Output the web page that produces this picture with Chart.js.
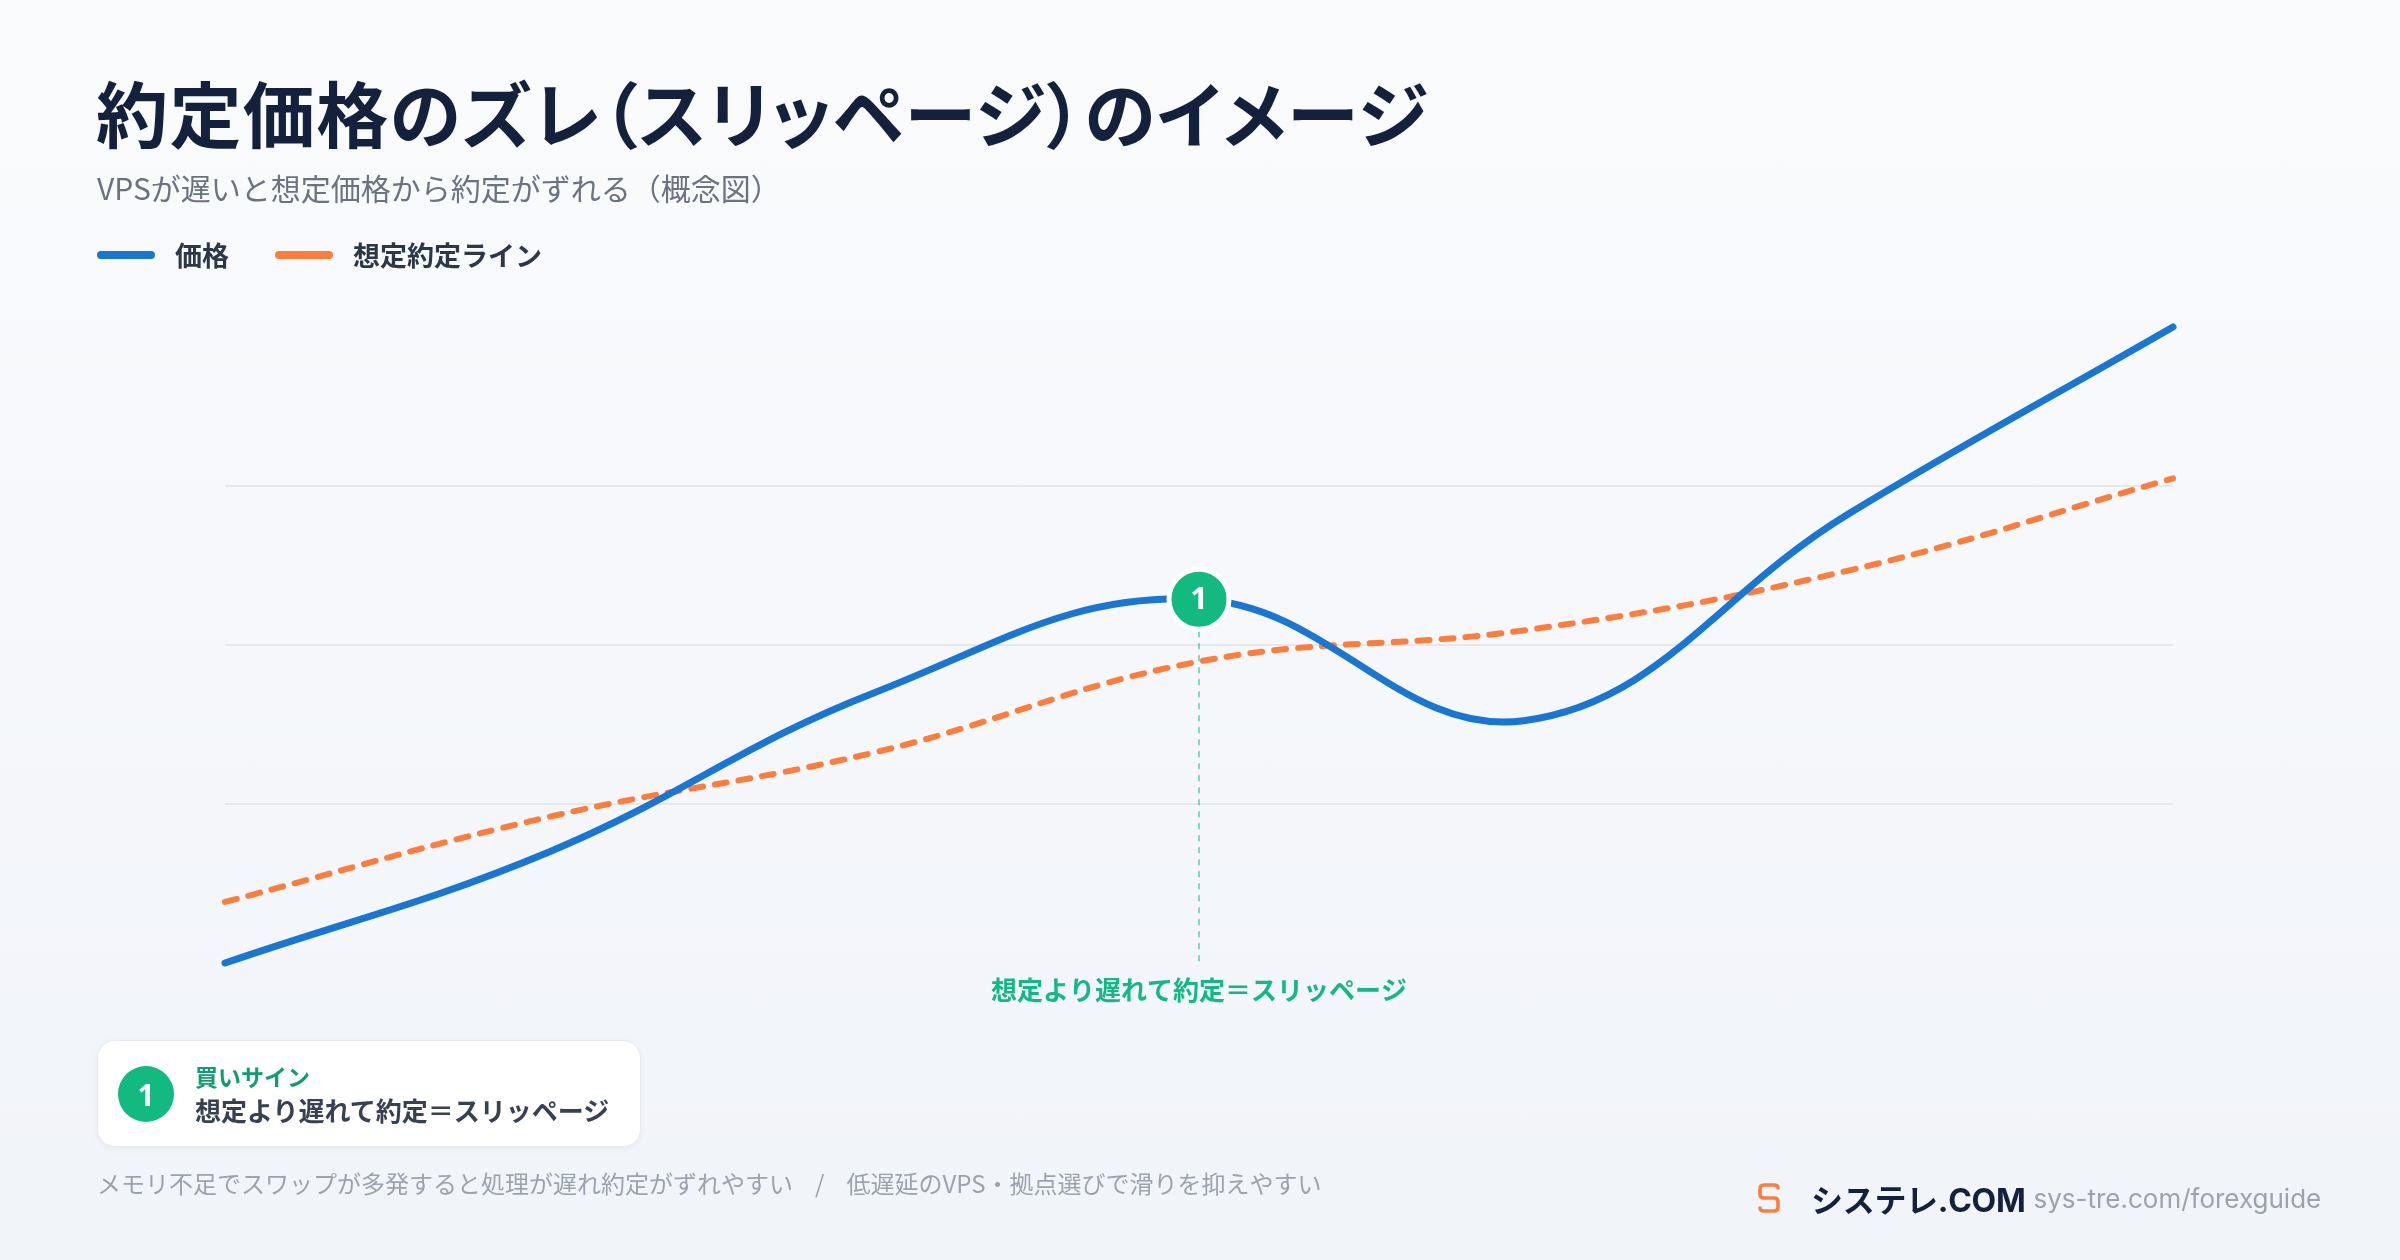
<!DOCTYPE html>
<html lang="ja">
<head>
<meta charset="utf-8">
<script src="https://cdn.jsdelivr.net/npm/chart.js@4.4.1/dist/chart.umd.min.js"></script>
<style>
  html, body { margin: 0; padding: 0; }
  body {
    width: 2400px; height: 1260px; position: relative; overflow: hidden;
    background: linear-gradient(180deg, #fafbfd 0%, #f1f4f9 100%);
    font-family: "Noto Sans CJK JP", "Noto Sans", sans-serif;
  }
  #wrap { position: absolute; left: 0; top: 0; width: 2400px; height: 1260px; }
  .abs { position: absolute; white-space: nowrap; line-height: 1; }
  #title { left: 96px; top: 75px; font-size: 72px; font-weight: 700; color: #14213d; font-feature-settings: "palt"; letter-spacing: 1.4px; }
  #subtitle { left: 97px; top: 172px; font-size: 30px; color: #6b7280; }
  .legend { top: 241px; display: flex; align-items: center; font-size: 27px; font-weight: 700; color: #2d3748; }
  .legend i { display: inline-block; width: 58px; height: 8px; border-radius: 4px; margin-right: 20px; }
  #card {
    position: absolute; left: 97px; top: 1040px; width: 544px; height: 107px;
    background: #fff; border: 1px solid #e6e9ef; border-radius: 18px; box-sizing: border-box;
    box-shadow: 0 2px 8px rgba(20, 33, 61, 0.05);
  }
  #card .num {
    position: absolute; left: 20px; top: 25px; width: 56px; height: 56px; border-radius: 50%;
    background: #12b981; color: #fff; font: 700 30px "Noto Sans", sans-serif;
    display: flex; align-items: center; justify-content: center;
  }
  #card .t1 { left: 97px; top: 24px; font-size: 23px; font-weight: 700; color: #0e9f6e; }
  #card .t2 { left: 97px; top: 56px; font-size: 26px; font-weight: 700; color: #374151; }
  #foot { left: 97px; top: 1171px; font-size: 24px; color: #9ca3af; }
  #foot .sep { margin: 0 22px; }
  #logo { left: 1757px; top: 1175px; display: flex; align-items: center; }
  #brand { font: 700 32px Inter, "Noto Sans CJK JP", sans-serif; color: #14213d; margin-left: 30px; letter-spacing: -0.3px; }
  #url { font: 400 26px Inter, "Noto Sans", sans-serif; color: #9ca3af; margin-left: 8px; }
</style>
</head>
<body>
<div id="wrap"><canvas id="myChart"></canvas></div>

<div id="title" class="abs">約定価格のズレ（スリッページ）のイメージ</div>
<div id="subtitle" class="abs">VPSが遅いと想定価格から約定がずれる（概念図）</div>
<div class="abs legend" style="left:97px"><i style="background:#1976d2"></i>価格</div>
<div class="abs legend" style="left:275px"><i style="background:#ff7d3c"></i>想定約定ライン</div>

<div id="card">
  <div class="num">1</div>
  <div class="abs t1">買いサイン</div>
  <div class="abs t2">想定より遅れて約定＝スリッページ</div>
</div>

<div id="foot" class="abs">メモリ不足でスワップが多発すると処理が遅れ約定がずれやすい<span class="sep">/</span>低遅延のVPS・拠点選びで滑りを抑えやすい</div>

<div id="logo" class="abs">
  <svg width="24" height="30" viewBox="0 0 24 30">
    <path d="M21 5 Q21 2 17 2 L7 2 Q3 2 3 6 L3 11 Q3 15 7 15 L17 15 Q21 15 21 19 L21 24 Q21 28 17 28 L7 28 Q3 28 3 25"
      fill="none" stroke="#ff7d3c" stroke-width="3.6" stroke-linecap="round" stroke-linejoin="round"/>
  </svg>
  <span id="brand">システレ.COM</span><span id="url">sys-tre.com/forexguide</span>
</div>

<script>
// time steps along the x-axis (hidden)
var steps = ['t0', 't1', 't2', 't3', 't4', 't5', 't6'];
// price line and expected fill line
var price = [0, 17.5, 42.5, 57.2, 38.1, 70.6, 100];
var expected = [9.6, 23.0, 33.1, 47.4, 52.3, 61.7, 76.2];
// marker for the buy signal
var signalIndex = 3;
var signalNo = '1';
var signalLabel = '想定より遅れて約定＝スリッページ';

var slipPlugin = {
  id: 'slip',
  beforeDatasetsDraw: function (chart) {
    var c = chart.ctx, x = chart.scales.x.getPixelForValue(signalIndex);
    var y = chart.scales.y.getPixelForValue(price[signalIndex]);
    c.save();
    c.strokeStyle = 'rgba(16,185,129,0.5)';
    c.lineWidth = 2;
    c.setLineDash([6, 6]);
    c.beginPath();
    c.moveTo(x, y + 32);
    c.lineTo(x, chart.chartArea.bottom);
    c.stroke();
    c.restore();
  },
  afterDatasetsDraw: function (chart) {
    var c = chart.ctx, x = chart.scales.x.getPixelForValue(signalIndex);
    var y = chart.scales.y.getPixelForValue(price[signalIndex]);
    c.save();
    c.beginPath();
    c.arc(x, y, 30, 0, Math.PI * 2);
    c.fillStyle = '#12b981';
    c.fill();
    c.lineWidth = 5;
    c.strokeStyle = '#ffffff';
    c.stroke();
    c.fillStyle = '#ffffff';
    c.font = '700 31px "Noto Sans", sans-serif';
    c.textAlign = 'center';
    c.textBaseline = 'middle';
    c.fillText(signalNo, x, y + 1);
    c.fillStyle = '#12b981';
    c.font = '700 26px "Noto Sans CJK JP", sans-serif';
    c.fillText(signalLabel, x, chart.chartArea.bottom + 27);
    c.restore();
  }
};

var ctx = document.getElementById('myChart');
var myChart = new Chart(ctx, {
  type: 'line',
  data: {
    labels: steps,
    datasets: [
      {
        data: price,
        label: '価格',
        borderColor: '#1976d2',
        borderWidth: 7,
        borderCapStyle: 'round',
        tension: 0.4,
        pointRadius: 0,
        clip: false,
        fill: false
      },
      {
        data: expected,
        label: '想定約定ライン',
        borderColor: '#ff7d3c',
        borderWidth: 6,
        borderDash: [12, 12],
        borderCapStyle: 'round',
        tension: 0.4,
        pointRadius: 0,
        clip: false,
        fill: false
      }
    ]
  },
  options: {
    responsive: true,
    maintainAspectRatio: false,
    animation: false,
    layout: { padding: { left: 225, right: 227, top: 327, bottom: 297 } },
    plugins: { legend: { display: false }, tooltip: { enabled: false } },
    scales: {
      x: { display: false },
      y: {
        min: 0, max: 100,
        ticks: { display: false, stepSize: 25 },
        border: { display: false },
        grid: {
          drawTicks: false,
          lineWidth: 2,
          color: function (c) {
            return (c.tick && (c.tick.value === 0 || c.tick.value === 100)) ? 'rgba(0,0,0,0)' : '#e6e8ec';
          }
        },
        afterFit: function (s) { s.width = 0; }
      }
    }
  },
  plugins: [slipPlugin]
});
</script>
</body>
</html>
